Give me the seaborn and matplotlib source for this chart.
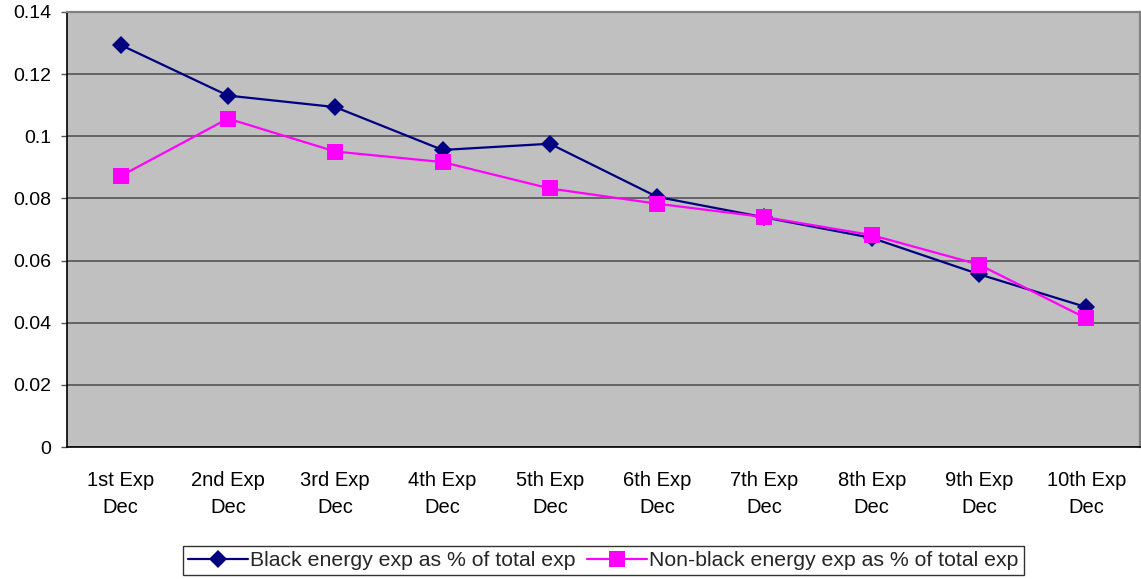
import numpy as np
import pandas as pd
import matplotlib
matplotlib.use("Agg")
import matplotlib.pyplot as plt
import seaborn as sns

categories = ["1st Exp\nDec", "2nd Exp\nDec", "3rd Exp\nDec", "4th Exp\nDec", "5th Exp\nDec",
              "6th Exp\nDec", "7th Exp\nDec", "8th Exp\nDec", "9th Exp\nDec", "10th Exp\nDec"]
black_share = [0.1294, 0.1131, 0.1094, 0.0956, 0.0976, 0.0805, 0.0739, 0.0673, 0.0556, 0.0450]
nonblack_share = [0.0872, 0.1057, 0.0951, 0.0917, 0.0832, 0.0783, 0.0740, 0.0682, 0.0587, 0.0414]
series_names = ["Black energy exp as % of total exp", "Non-black energy exp as % of total exp"]

df = pd.DataFrame({
    "pos": list(range(len(categories))) * 2,
    "value": black_share + nonblack_share,
    "series": [series_names[0]] * len(categories) + [series_names[1]] * len(categories),
})

sns.set_theme(style="white")
plt.rcParams["font.family"] = ["Liberation Sans", "DejaVu Sans"]

fig = plt.figure(figsize=(11.41, 5.79), dpi=100)
ax = fig.add_axes([67 / 1141, 132 / 579, 1073 / 1141, 435 / 579])
ax.set_facecolor("#C0C0C0")

palette = {series_names[0]: "#000080", series_names[1]: "#FF00FF"}
sns.lineplot(data=df, x="pos", y="value", hue="series", style="series",
             palette=palette, markers={series_names[0]: "D", series_names[1]: "s"},
             dashes=False, linewidth=1.6, ax=ax, legend=False)
for line, ms in zip(ax.lines, [9.5, 11.5]):
    line.set_markersize(ms)
    line.set_markeredgewidth(0)

ax.set_xlim(-0.5, len(categories) - 0.5)
ax.set_ylim(0, 0.14)
ax.set_yticks(np.arange(0, 0.1401, 0.02))
ax.set_yticklabels(["0", "0.02", "0.04", "0.06", "0.08", "0.1", "0.12", "0.14"])
ax.yaxis.grid(True, color="#555555", linewidth=1.2)
ax.set_axisbelow(True)

ax.set_xticks(range(len(categories)))
ax.set_xticklabels(categories, linespacing=1.55)
ax.set_xticks(np.arange(-0.5, len(categories), 1.0), minor=True)
ax.tick_params(axis="x", which="major", length=0, pad=17, labelsize=14.5, colors="black")
ax.tick_params(axis="x", which="minor", length=4.5, width=1, color="#555555", direction="out")
ax.tick_params(axis="y", which="major", length=4.5, width=1, color="#555555", direction="out",
               left=True, pad=7, labelsize=14, colors="black")
ax.set_xlabel("")
ax.set_ylabel("")

for side in ["left", "bottom"]:
    ax.spines[side].set_color("black")
    ax.spines[side].set_linewidth(1.2)
for side in ["top", "right"]:
    ax.spines[side].set_color("#808080")
    ax.spines[side].set_linewidth(1.6)

handles = [
    plt.Line2D([], [], color="#000080", marker="D", markersize=9, markeredgewidth=0, linewidth=1.6),
    plt.Line2D([], [], color="#FF00FF", marker="s", markersize=11, markeredgewidth=0, linewidth=1.6),
]
leg = fig.legend(handles, series_names, loc="center", bbox_to_anchor=(603.5 / 1141, 1 - 560.5 / 579),
                 ncol=2, frameon=True, fancybox=False, edgecolor="black", fontsize=15.3,
                 handlelength=2.8, handletextpad=0.12, columnspacing=0.55, borderpad=0.25,
                 borderaxespad=0)
leg.get_frame().set_linewidth(1.0)

fig.savefig("out.png", dpi=100, facecolor="white")
